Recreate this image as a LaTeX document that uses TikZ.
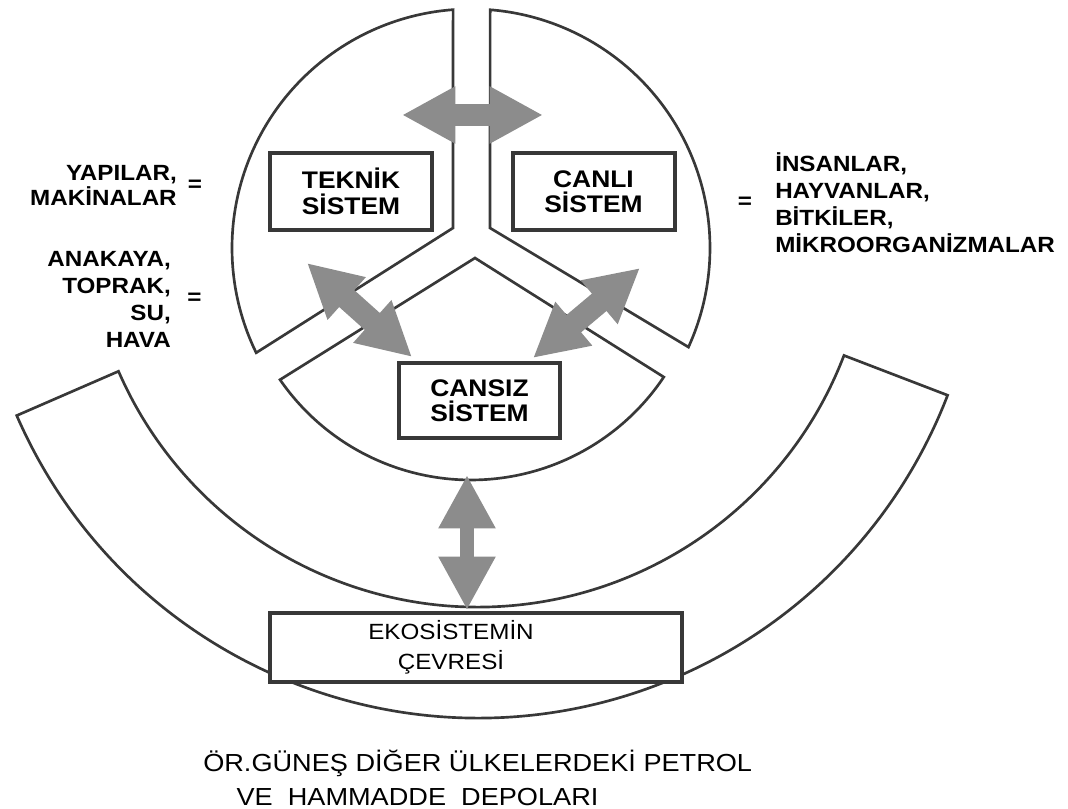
\documentclass[tikz,border=0pt]{standalone}
\usepackage{fontspec}
\setmainfont{Liberation Sans}[FakeStretch=1.1]
\usetikzlibrary{positioning,calc,arrows.meta}

\tikzset{
  sector/.style={draw=black!78, line width=2pt, line join=miter},
  sysbox/.style={draw=black!78, line width=3pt, align=center, inner sep=0pt,
    font=\bfseries\fontsize{18}{19}\selectfont},
  lbl/.style={inner sep=0pt, font=\bfseries\fontsize{16.5}{20.25}\selectfont},
  flow/.style={draw=black!45, line width=17pt,
    {Triangle[length=40pt,width=40pt]}-{Triangle[length=40pt,width=40pt]}},
}

\begin{document}
\begin{tikzpicture}[x=0.75pt, y=0.75pt]
\useasboundingbox (0,0) rectangle (1068,809);

\coordinate (c) at (471,561);
\coordinate (b) at (478,594);

% three parts of the ecosystem
\draw[sector] (453,581) -- ($(c)+(94.3:239)$) arc[start angle=94.3, end angle=206, radius=239] -- cycle;
\draw[sector] (490,581) -- ($(c)+(85.4:239)$) arc[start angle=85.4, end angle=-24.5, radius=239] -- cycle;
\draw[sector] (475,551) -- ($(c)+(214.6:232)$) arc[start angle=214.6, end angle=326.2, radius=232] -- cycle;

% environment band
\draw[sector] ($(b)+(203.5:503)$) arc[start angle=203.5, end angle=339, radius=503]
  -- ($(b)+(339:392)$) arc[start angle=339, end angle=203.5, radius=392] -- cycle;

\node[sysbox, minimum width=121.5pt, minimum height=57.75pt] (teknik) at (351,617.5) {TEKNİK\\SİSTEM};
\node[sysbox, minimum width=121.5pt, minimum height=57.75pt] (canli) at (593.5,617.5) {CANLI\\SİSTEM};
\node[sysbox, minimum width=120.75pt, minimum height=56.25pt] (cansiz) at (479.5,408.5) {CANSIZ\\SİSTEM};
\node[sysbox, minimum width=309pt, minimum height=51.75pt, fill=white] (cevre) at (476,161.5) {};
\node[align=center, inner sep=0pt, font=\fontsize{16.5}{22.5}\selectfont] (cevretext)
  at ($(cevre.center)+(-25,0)$) {EKOSİSTEMİN\\ÇEVRESİ};

% exchanges
\coordinate (ta1) at (402,694);
\coordinate (ta2) at (543,694);
\coordinate (la1) at (307,546);
\coordinate (la2) at (412,452);
\coordinate (ra1) at (640,541);
\coordinate (ra2) at (533,451);
\coordinate (va1) at (467,334);
\coordinate (va2) at (467,199);

\draw[flow] (ta1) -- (ta2);
\draw[flow] (la1) -- (la2);
\draw[flow] (ra1) -- (ra2);
\draw[flow, line width=10pt] (va1) -- (va2);

% side labels
\node[lbl, align=right, anchor=east, font=\bfseries\fontsize{16.5}{18.75}\selectfont] (yapi) at (177,623.5) {YAPILAR,\\MAKİNALAR};
\node[lbl, right=8pt of yapi] (eq1) {=};
\node[lbl, align=right, anchor=east] (anakaya) at (171,510) {ANAKAYA,\\TOPRAK,\\SU,\\HAVA};
\node[lbl, right=12pt of anakaya] (eq2) {=};
\node[lbl, align=left, anchor=west] (insan) at (775,606) {İNSANLAR,\\HAYVANLAR,\\BİTKİLER,\\MİKROORGANİZMALAR};
\node[lbl, left=17pt of insan] (eq3) {=};

\node[align=left, anchor=west, inner sep=0pt, font=\fontsize{18.5}{25}\selectfont] (depo) at (203,31)
  {ÖR.GÜNEŞ DİĞER ÜLKELERDEKİ PETROL\\\hspace*{25pt}VE\ \ HAMMADDE\ \ DEPOLARI};
\end{tikzpicture}
\end{document}
